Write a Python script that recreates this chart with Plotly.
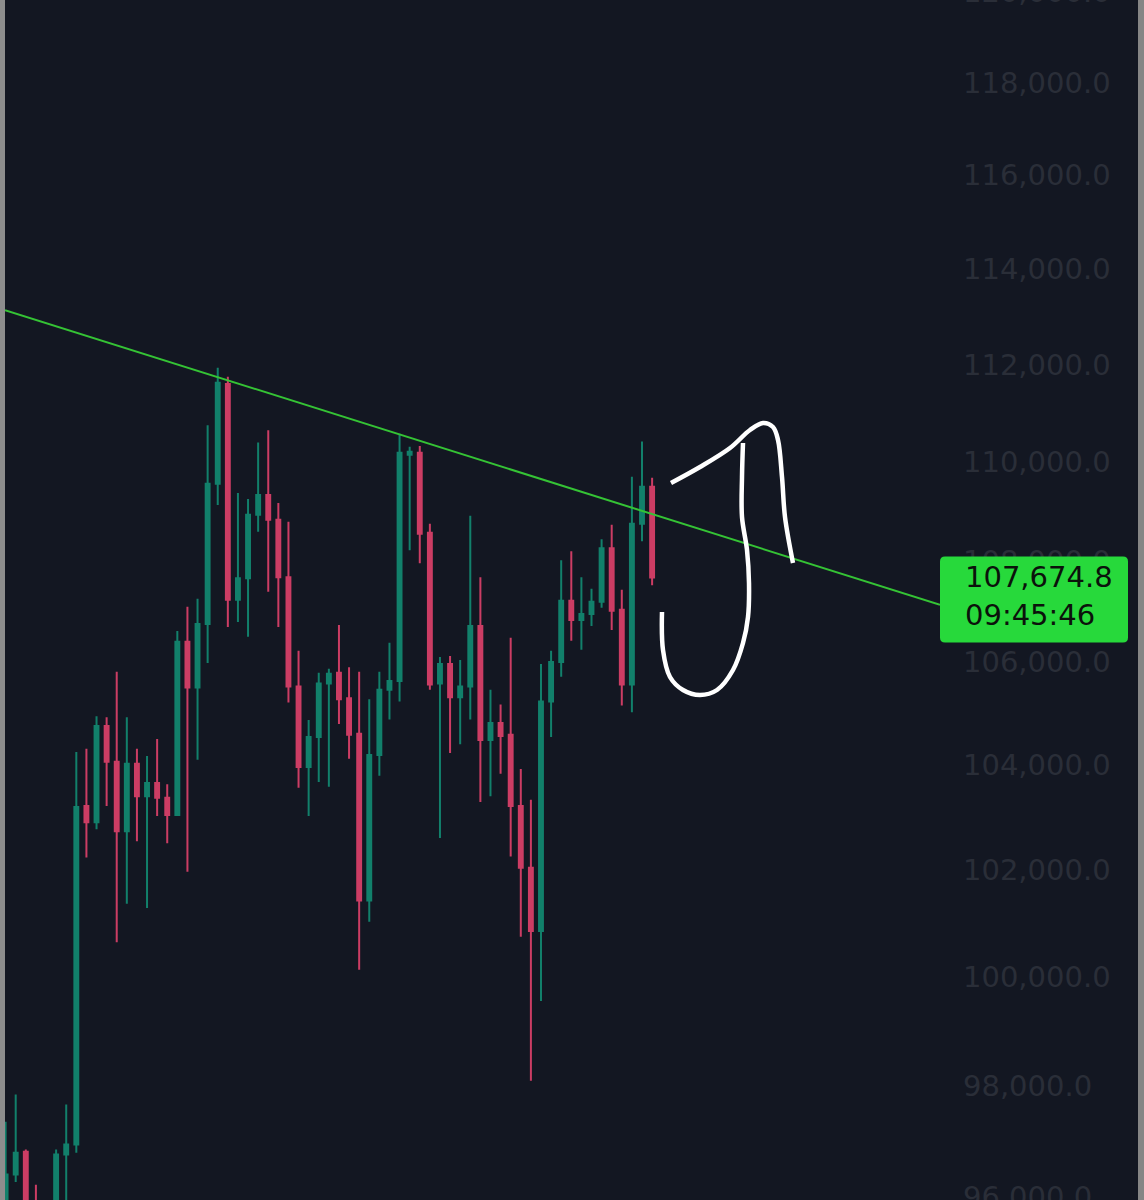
import math
import plotly.graph_objects as go

# ---------------- data ----------------
candle_index = list(range(65))
opens = [95680, 96400, 96810, 95860, 95320, 95680, 96760, 96940, 103210, 102900,
         104750, 104060, 102730, 104020, 103400, 103650, 103370, 103040, 106400, 105500,
         106750, 109560, 111600, 107230, 107660, 108930, 109330, 108830, 107680, 105520,
         103960, 104540, 105580, 105790, 105290, 104600, 101420, 104190, 105460, 105630,
         110150, 110190, 108570, 105580, 105960, 105310, 105520, 106710, 104480, 104810,
         104580, 103210, 102040, 100850, 105230, 106000, 107210, 106830, 106950, 107190,
         108260, 107030, 105560, 108750, 109500]
highs = [97350, 97840, 96850, 96220, 95860, 96850, 97660, 104250, 104310, 104940,
         104920, 105810, 104920, 104310, 104170, 104500, 103630, 106610, 107090, 107250,
         110750, 111940, 111750, 109370, 109250, 110400, 110650, 109170, 108790, 106220,
         104870, 105790, 105870, 106730, 105900, 105810, 105270, 105810, 106380, 110580,
         110310, 110330, 108750, 106100, 106120, 106040, 108910, 107680, 105460, 105170,
         106480, 103920, 103330, 105960, 106220, 108020, 108200, 107680, 107450, 108440,
         108730, 107430, 109700, 110420, 109680]
lows = [95500, 96270, 95680, 95320, 95150, 95500, 95770, 96790, 102230, 102770,
        103210, 100640, 101360, 102540, 101280, 103020, 102500, 103020, 101960, 104100,
        105980, 109130, 106690, 106790, 106500, 108590, 107390, 106690, 105210, 103560,
        103020, 103670, 103580, 104790, 104120, 100130, 101020, 103790, 104880, 105230,
        108220, 107960, 105460, 102600, 104230, 104400, 104880, 103290, 103400, 103830,
        102250, 100740, 98090, 99550, 104540, 105710, 106420, 106240, 106710, 107070,
        106630, 105150, 105020, 108400, 107520]
closes = [96400, 96790, 95770, 95500, 95680, 96760, 96940, 103190, 102900, 104750,
          104060, 102730, 104020, 103400, 103650, 103370, 103040, 106400, 105500, 106750,
          109560, 111630, 107230, 107660, 108930, 109330, 108830, 107680, 105520, 103960,
          104540, 105580, 105770, 105270, 104580, 101420, 104190, 105460, 105630, 110190,
          110210, 108550, 105560, 105960, 105310, 105520, 106710, 104480, 104810, 104560,
          103210, 102040, 100850, 105230, 106000, 107210, 106830, 106950, 107190, 108260,
          107010, 105560, 108750, 109500, 107674.8]

price_ticks = [96000, 98000, 100000, 102000, 104000, 106000, 108000,
               110000, 112000, 114000, 116000, 118000, 120000]
price_tick_labels = [f"{v:,.1f}" for v in price_ticks]

# trendline (two anchor points: candle index, price)
trend_x = [-0.06, 92.5]
trend_y = [113140, 107130]

last_price_text = "107,674.8"
countdown_text = "09:45:46"

# visible window of the chart
x_window = [-0.06, 92.5]
price_window = [95948, 119828]

# hand-drawn doodle strokes (screen pixel coordinates of the freehand drawing)
doodle1_x = [671, 700, 730, 750, 763, 773, 778, 782, 785, 793]
doodle1_y = [483, 467, 448, 430, 423, 427, 440, 477, 517, 563]
doodle2_x = [743, 742, 742, 747, 749, 748, 743, 733, 717, 700, 683, 670, 663, 662]
doodle2_y = [443, 477, 517, 550, 583, 617, 643, 670, 690, 695, 690, 677, 650, 612]

# ---------------- styling ----------------
W, H = 1144, 1200
L_M, R_M = 5, 204
BG = "#131722"
UP = "#12806b"
DOWN = "#cc3d64"
LABEL_COL = "#2a2e38"
FONT = "DejaVu Sans"
plot_w = W - L_M - R_M

fig = go.Figure()

fig.add_trace(go.Candlestick(
    x=candle_index, open=opens, high=highs, low=lows, close=closes,
    increasing=dict(line=dict(color=UP, width=2), fillcolor=UP),
    decreasing=dict(line=dict(color=DOWN, width=2), fillcolor=DOWN),
    whiskerwidth=0, hoverinfo="skip", showlegend=False,
))

fig.add_trace(go.Scatter(
    x=trend_x, y=trend_y, mode="lines",
    line=dict(color="#35c335", width=2), hoverinfo="skip", showlegend=False,
))

for dx, dy in [(doodle1_x, doodle1_y), (doodle2_x, doodle2_y)]:
    fig.add_trace(go.Scatter(
        x=dx, y=dy, mode="lines", xaxis="x2", yaxis="y2",
        line=dict(color="white", width=4.5, shape="spline", smoothing=1.0),
        hoverinfo="skip", showlegend=False,
    ))

lo, hi = math.log10(price_window[0]), math.log10(price_window[1])

# price label box (rounded) positioned from the last close
yp = (math.log10(closes[-1]) - lo) / (hi - lo)
bx0 = (940 - L_M) / plot_w
bx1 = (1128 - L_M) / plot_w
by1 = yp + 21 / H
by0 = yp - 65 / H
rx, ry = 5 / plot_w, 5 / H
path = (f"M {bx0+rx},{by1} L {bx1-rx},{by1} Q {bx1},{by1} {bx1},{by1-ry} "
        f"L {bx1},{by0+ry} Q {bx1},{by0} {bx1-rx},{by0} "
        f"L {bx0+rx},{by0} Q {bx0},{by0} {bx0},{by0+ry} "
        f"L {bx0},{by1-ry} Q {bx0},{by1} {bx0+rx},{by1} Z")

shapes = [
    dict(type="path", path=path, xref="paper", yref="paper",
         fillcolor="#27d93b", line=dict(width=0), layer="above"),
    dict(type="rect", xref="paper", yref="paper", x0=-L_M / plot_w, x1=0, y0=0, y1=1,
         fillcolor="#8d8d8d", line=dict(width=0), layer="above"),
    dict(type="rect", xref="paper", yref="paper",
         x0=(1138 - L_M) / plot_w, x1=(1144 - L_M) / plot_w, y0=0, y1=1,
         fillcolor="#858585", line=dict(width=0), layer="above"),
]

top_tick_paper = (math.log10(price_ticks[-1]) - lo) / (hi - lo)

annotations = [
    dict(text=f"{last_price_text}<br>{countdown_text}", xref="paper", yref="y",
         x=(963 - L_M) / plot_w, y=math.log10(closes[-1]), xanchor="left", yanchor="top",
         yshift=19, showarrow=False, align="left",
         font=dict(family=FONT, size=29, color="#0b120b")),
    dict(text=price_tick_labels[-1], xref="paper", yref="paper",
         x=(961 - L_M) / plot_w, y=top_tick_paper, xanchor="left",
         yanchor="middle", showarrow=False,
         font=dict(family=FONT, size=29, color=LABEL_COL)),
]

fig.update_layout(
    width=W, height=H,
    margin=dict(l=L_M, r=R_M, t=0, b=0, pad=0, autoexpand=False),
    paper_bgcolor=BG, plot_bgcolor=BG,
    boxgap=0.45,
    hovermode=False,
    showlegend=False,
    xaxis=dict(range=x_window, visible=False, rangeslider=dict(visible=False),
               showgrid=False, zeroline=False, fixedrange=True, automargin=False),
    yaxis=dict(type="log", range=[lo, hi], side="right",
               tickvals=price_ticks, ticktext=price_tick_labels,
               tickfont=dict(family=FONT, size=29, color=LABEL_COL),
               showgrid=False, zeroline=False, showline=False, ticks="",
               ticklabelstandoff=22, ticklabeloverflow="allow", fixedrange=True,
               automargin=False),
    xaxis2=dict(overlaying="x", range=[L_M, W - R_M], visible=False, fixedrange=True),
    yaxis2=dict(overlaying="y", range=[H, 0], visible=False, fixedrange=True),
    shapes=shapes,
    annotations=annotations,
)

fig.write_html(
    "out.html",
    config={"displayModeBar": False, "staticPlot": True},
    post_script="document.body.style.margin='0';document.body.style.background='#131722';",
)
